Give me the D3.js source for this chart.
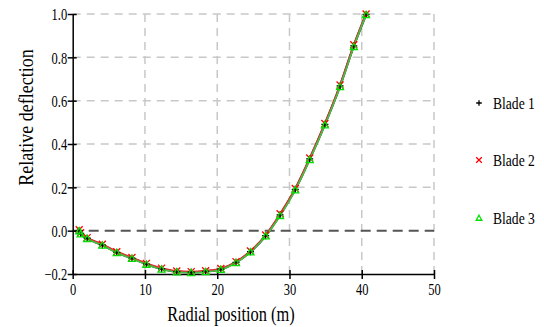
<!DOCTYPE html>
<html>
  <head>
    <meta charset="UTF-8">
    <title></title>
    <style>
    body { margin: 0; background: #fff; }
    svg text { font-family: "Times New Roman", Times, "Liberation Serif", "DejaVu Serif", "Noto Serif", serif !important; fill: #000; }
    </style>
  </head>
  <body>
    <svg id="chart" width="544" height="327"></svg>
  <script src="https://cdn.jsdelivr.net/npm/d3@7"></script>
  <script>
  // radial stations along the blade (m)
  var radius = [0.9, 1.1, 2.0, 4.1, 6.1, 8.2, 10.2, 12.3, 14.4, 16.4, 18.4, 20.5, 22.6, 24.6, 26.7, 28.7, 30.8, 32.8, 34.9, 37.0, 38.9, 40.6];
  var blade1 = [0.0, -0.013, -0.035, -0.066, -0.100, -0.127, -0.154, -0.176, -0.189, -0.192, -0.188, -0.178, -0.146, -0.097, -0.023, 0.073, 0.191, 0.331, 0.491, 0.668, 0.853, 0.998];
  var blade2 = [0.004, -0.010, -0.032, -0.063, -0.097, -0.124, -0.151, -0.173, -0.186, -0.189, -0.185, -0.175, -0.143, -0.094, -0.020, 0.078, 0.195, 0.335, 0.495, 0.672, 0.858, 1.0];
  var blade3 = [-0.002, -0.016, -0.037, -0.068, -0.102, -0.129, -0.156, -0.178, -0.191, -0.194, -0.190, -0.180, -0.148, -0.099, -0.025, 0.069, 0.187, 0.327, 0.487, 0.664, 0.849, 0.996];
  var seriesNames = ["Blade 1", "Blade 2", "Blade 3"];
  var xTicks = [0, 10, 20, 30, 40, 50];
  var yTicks = [-0.2, 0.0, 0.2, 0.4, 0.6, 0.8, 1.0];

  var svg = d3.select("svg#chart");
  var x = d3.scaleLinear().domain([0, 50]).range([72.7, 434]);
  var y = d3.scaleLinear().domain([-0.2, 1.0]).range([274, 14]);

  // squeeze text horizontally to mimic the narrow original font
  function squeeze(sel, k) {
    sel.each(function() {
      var w = this.getComputedTextLength();
      d3.select(this).attr("textLength", w * k).attr("lengthAdjust", "spacingAndGlyphs");
    });
  }

  // grid
  svg.append("g").selectAll("line")
    .data(yTicks.filter(function(d) { return d > 0; }))
    .enter().append("line")
    .attr("x1", x(0)).attr("x2", x(50))
    .attr("y1", function(d) { return y(d); }).attr("y2", function(d) { return y(d); })
    .style("stroke", "#c8c8c8").style("stroke-width", 1.5).style("stroke-dasharray", "8,6");
  svg.append("g").selectAll("line")
    .data(xTicks.filter(function(d) { return d > 0; }))
    .enter().append("line")
    .attr("x1", function(d) { return x(d); }).attr("x2", function(d) { return x(d); })
    .attr("y1", y(1.0)).attr("y2", y(-0.2))
    .style("stroke", "#c8c8c8").style("stroke-width", 1.5).style("stroke-dasharray", "8,6");

  // zero line
  svg.append("line")
    .attr("x1", x(0)).attr("x2", x(50)).attr("y1", y(0)).attr("y2", y(0))
    .style("stroke", "#555").style("stroke-width", 2).style("stroke-dasharray", "10,6");

  // axes
  var xAxis = svg.append("g").attr("transform", "translate(0," + y(-0.2) + ")")
    .call(d3.axisBottom(x).tickValues(xTicks).tickFormat(d3.format("d")).tickSizeOuter(0));
  xAxis.attr("font-family", null);
  xAxis.select(".domain").style("stroke", "#000").style("stroke-width", 1.5);
  xAxis.selectAll(".tick line").attr("y1", -4).attr("y2", 5).style("stroke-width", 1.5);
  xAxis.selectAll(".tick text").attr("y", 21).attr("dy", 0).style("font-size", "16px")
    .call(squeeze, 0.78);

  var yAxis = svg.append("g").attr("transform", "translate(" + x(0) + ",0)")
    .call(d3.axisLeft(y).tickValues(yTicks).tickFormat(d3.format(".1f")).tickSizeOuter(0));
  yAxis.attr("font-family", null);
  yAxis.select(".domain").style("stroke", "#000").style("stroke-width", 1.5);
  yAxis.selectAll(".tick line").attr("x1", -5).attr("x2", 4).style("stroke-width", 1.5);
  yAxis.selectAll(".tick text").attr("x", -5.5).attr("dy", "0.36em").style("font-size", "16px")
    .call(squeeze, 0.78);

  // titles
  svg.append("text").attr("transform", "translate(231,321)scale(0.82,1)").attr("text-anchor", "middle")
    .style("font-size", "20px").text("Radial position (m)");
  svg.append("text").attr("transform", "translate(33,117.5)rotate(-90)scale(0.9,1)").attr("text-anchor", "middle")
    .style("font-size", "20px").text("Relative deflection");

  // curves
  var data = [blade1, blade2, blade3].map(function(vals) {
    return vals.map(function(v, i) { return [radius[i], v]; });
  });
  var line = d3.line().x(function(d) { return x(d[0]); }).y(function(d) { return y(d[1]); })
    .curve(d3.curveMonotoneX);
  var lineColors = ["#333", "#e03030", "#44c044"];
  var lineWidths = [2.4, 1.8, 1.6];
  data.forEach(function(s, i) {
    svg.append("path").datum(s).attr("d", line)
      .style("fill", "none").style("stroke", lineColors[i]).style("stroke-width", lineWidths[i]);
  });

  function plus(g, cx, cy, r, color) {
    g.append("path").attr("d", "M" + (cx - r) + "," + cy + "H" + (cx + r) + "M" + cx + "," + (cy - r) + "V" + (cy + r))
      .style("stroke", color).style("stroke-width", 1.3).style("fill", "none");
  }
  function cross(g, cx, cy, r, color) {
    g.append("path").attr("d", "M" + (cx - r) + "," + (cy - r) + "L" + (cx + r) + "," + (cy + r) +
      "M" + (cx - r) + "," + (cy + r) + "L" + (cx + r) + "," + (cy - r))
      .style("stroke", color).style("stroke-width", 1.3).style("fill", "none");
  }
  function tri(g, cx, cy, r, color) {
    g.append("path").attr("d", "M" + cx + "," + (cy - r) + "L" + (cx + r) + "," + (cy + r * 0.8) +
      "L" + (cx - r) + "," + (cy + r * 0.8) + "Z")
      .style("stroke", color).style("stroke-width", 1.3).style("fill", "none");
  }
  var markers = [plus, cross, tri];
  var markerColors = ["#000", "#ff0000", "#00e000"];

  var mk = svg.append("g");
  [1, 0, 2].forEach(function(si) {
    data[si].forEach(function(d) {
      markers[si](mk, x(d[0]), y(d[1]), 3.5, markerColors[si]);
    });
  });

  // legend
  var legY = [103, 160, 218];
  seriesNames.forEach(function(name, i) {
    markers[i](svg, 479, legY[i], 2.8, markerColors[i]);
    svg.append("text").attr("transform", "translate(493," + (legY[i] + 6) + ")scale(0.8,1)")
      .style("font-size", "17px").text(name);
  });
  </script>
  </body>
</html>
